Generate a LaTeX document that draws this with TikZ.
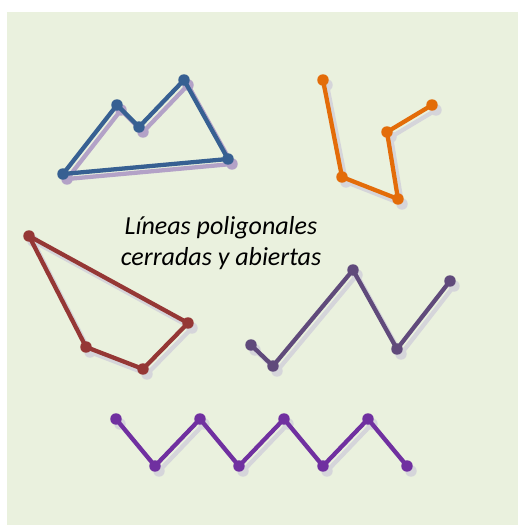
\documentclass[tikz,border=0pt]{standalone}
\usepackage{fontspec}
\setmainfont{Carlito}
\usetikzlibrary{calc}
\definecolor{paper}{HTML}{EAF1DE}
\definecolor{lilac}{HTML}{B3A2C7}
\definecolor{haze}{HTML}{D5D5DA}
\definecolor{steel}{HTML}{376092}
\definecolor{carrot}{HTML}{E36C09}
\definecolor{brick}{HTML}{953735}
\definecolor{plum}{HTML}{604A7B}
\definecolor{violet}{HTML}{7030A0}
\tikzset{
  poly/.style={line width=3.2pt, line join=round, line cap=round},
  shadow/.style={shift={(4,5)}},
  dot/.style={radius=4.3pt},
  title/.style={align=center, font=\fontsize{19.5}{23.5}\selectfont\itshape},
}

\begin{document}
\begin{tikzpicture}[x=0.75pt, y=-0.75pt]
  \useasboundingbox (0,0) rectangle (518,525);
  \fill[paper] (7,12) rectangle (518,525);

  % closed, blue
  \coordinate (b1) at (63,174);
  \coordinate (b2) at (117,105);
  \coordinate (b3) at (139,127);
  \coordinate (b4) at (184,80);
  \coordinate (b5) at (228,159);
  \draw[poly, lilac] ([shadow]b1) -- ([shadow]b2) -- ([shadow]b3) -- ([shadow]b4) -- ([shadow]b5) -- cycle;
  \foreach \v in {b1,b2,b3,b4,b5} \fill[lilac] ([shadow]\v) circle[dot];
  \draw[poly, steel] (b1) -- (b2) -- (b3) -- (b4) -- (b5) -- cycle;
  \foreach \v in {b1,b2,b3,b4,b5} \fill[steel] (\v) circle[dot];

  % open, orange
  \coordinate (o1) at (323,80);
  \coordinate (o2) at (342,177);
  \coordinate (o3) at (398,199);
  \coordinate (o4) at (387,132);
  \coordinate (o5) at (432,105);
  \draw[poly, haze] ([shadow]o1) -- ([shadow]o2) -- ([shadow]o3) -- ([shadow]o4) -- ([shadow]o5);
  \foreach \v in {o1,o2,o3,o4,o5} \fill[haze] ([shadow]\v) circle[dot];
  \draw[poly, carrot] (o1) -- (o2) -- (o3) -- (o4) -- (o5);
  \foreach \v in {o1,o2,o3,o4,o5} \fill[carrot] (\v) circle[dot];

  % closed, red
  \coordinate (r1) at (29,236);
  \coordinate (r2) at (188,323);
  \coordinate (r3) at (143,369);
  \coordinate (r4) at (86,347);
  \draw[poly, haze] ([shadow]r1) -- ([shadow]r2) -- ([shadow]r3) -- ([shadow]r4) -- cycle;
  \foreach \v in {r1,r2,r3,r4} \fill[haze] ([shadow]\v) circle[dot];
  \draw[poly, brick] (r1) -- (r2) -- (r3) -- (r4) -- cycle;
  \foreach \v in {r1,r2,r3,r4} \fill[brick] (\v) circle[dot];

  % open, plum
  \coordinate (p1) at (251,345);
  \coordinate (p2) at (273,366);
  \coordinate (p3) at (353,270);
  \coordinate (p4) at (397,349);
  \coordinate (p5) at (450,281);
  \draw[poly, haze] ([shadow]p1) -- ([shadow]p2) -- ([shadow]p3) -- ([shadow]p4) -- ([shadow]p5);
  \foreach \v in {p1,p2,p3,p4,p5} \fill[haze] ([shadow]\v) circle[dot];
  \draw[poly, plum] (p1) -- (p2) -- (p3) -- (p4) -- (p5);
  \foreach \v in {p1,p2,p3,p4,p5} \fill[plum] (\v) circle[dot];

  % open zigzag, violet
  \foreach \i/\x/\y in {1/116/419, 2/155/466, 3/200/419, 4/239/466,
                        5/284/419, 6/323/466, 7/368/419, 8/407/466}
    \coordinate (z\i) at (\x,\y);
  \draw[poly, haze] ([shadow]z1) -- ([shadow]z2) -- ([shadow]z3) -- ([shadow]z4)
    -- ([shadow]z5) -- ([shadow]z6) -- ([shadow]z7) -- ([shadow]z8);
  \foreach \v in {z1,z2,z3,z4,z5,z6,z7,z8} \fill[haze] ([shadow]\v) circle[dot];
  \draw[poly, violet] (z1) -- (z2) -- (z3) -- (z4) -- (z5) -- (z6) -- (z7) -- (z8);
  \foreach \v in {z1,z2,z3,z4,z5,z6,z7,z8} \fill[violet] (\v) circle[dot];

  \node[title] (caption) at (221,243) {Líneas poligonales\\cerradas y abiertas};
\end{tikzpicture}
\end{document}
